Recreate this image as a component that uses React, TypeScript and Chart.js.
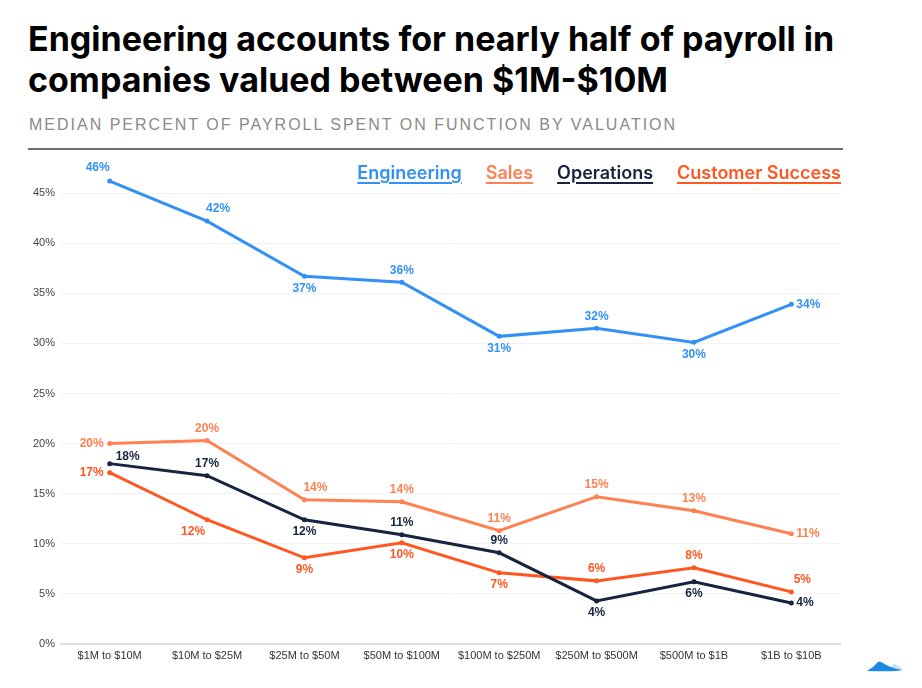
import React, { useEffect, useRef } from "react";
import { Chart, registerables } from "chart.js";

Chart.register(...registerables);

const categories = [
  "$1M to $10M",
  "$10M to $25M",
  "$25M to $50M",
  "$50M to $100M",
  "$100M to $250M",
  "$250M to $500M",
  "$500M to $1B",
  "$1B to $10B",
];

const engineering = [46.2, 42.2, 36.7, 36.1, 30.7, 31.5, 30.1, 33.9];
const sales = [20.0, 20.3, 14.4, 14.2, 11.3, 14.7, 13.3, 11.0];
const operations = [18.0, 16.8, 12.4, 10.9, 9.1, 4.3, 6.2, 4.1];
const customerSuccess = [17.1, 12.4, 8.6, 10.1, 7.1, 6.3, 7.6, 5.2];

const yTicks = [0, 5, 10, 15, 20, 25, 30, 35, 40, 45];

// label placement per point (style config, not data)
const engPlace = ["al", "ar", "b", "a", "b", "a", "b", "r"];
const salesPlace = ["l", "a", "ar", "a", "a", "a", "a", "r"];
const opsPlace = ["rt", "a", "b", "a", "a", "b", "b", "r"];
const csPlace = ["l", "bl", "b", "b", "b", "a", "a", "ar"];

const COLORS = {
  eng: "#3391f5",
  sales: "#ff8152",
  ops: "#16243f",
  cs: "#ff5722",
};

const PLACE: Record<string, { dx: number; dy: number; align: CanvasTextAlign }> = {
  a: { dx: 0, dy: -12, align: "center" },
  b: { dx: 0, dy: 12, align: "center" },
  l: { dx: -6, dy: 0, align: "right" },
  r: { dx: 5, dy: 0, align: "left" },
  al: { dx: -12, dy: -13, align: "center" },
  ar: { dx: 11, dy: -12, align: "center" },
  bl: { dx: -14, dy: 12, align: "center" },
  rt: { dx: 6, dy: -7, align: "left" },
};

const labelPlugin = {
  id: "pointLabels",
  afterDatasetsDraw(chart: any) {
    const ctx = chart.ctx as CanvasRenderingContext2D;
    ctx.save();
    ctx.font = "bold 12px 'Liberation Sans', Arial, sans-serif";
    ctx.textBaseline = "middle";
    chart.data.datasets.forEach((ds: any, i: number) => {
      const meta = chart.getDatasetMeta(i);
      const places: string[] = ds.labelPlaces || [];
      meta.data.forEach((pt: any, j: number) => {
        const p = PLACE[places[j] || "a"];
        ctx.fillStyle = ds.borderColor;
        ctx.textAlign = p.align;
        ctx.fillText(Math.round(ds.data[j]) + "%", pt.x + p.dx, pt.y + p.dy);
      });
    });
    ctx.restore();
  },
};

const legendItems = [
  { label: "Engineering", color: COLORS.eng },
  { label: "Sales", color: COLORS.sales },
  { label: "Operations", color: COLORS.ops },
  { label: "Customer Success", color: COLORS.cs },
];

function LineChart() {
  const ref = useRef<HTMLCanvasElement | null>(null);
  useEffect(() => {
    if (!ref.current) return;
    const mk = (label: string, data: number[], color: string, places: string[]) => ({
      label,
      data,
      borderColor: color,
      backgroundColor: color,
      pointBackgroundColor: color,
      pointBorderColor: color,
      borderWidth: 3,
      pointRadius: 2.5,
      pointBorderWidth: 0,
      tension: 0,
      clip: false as any,
      labelPlaces: places,
    });
    const chart = new Chart(ref.current, {
      type: "line",
      data: {
        labels: categories,
        datasets: [
          mk("Engineering", engineering, COLORS.eng, engPlace),
          mk("Sales", sales, COLORS.sales, salesPlace),
          mk("Operations", operations, COLORS.ops, opsPlace),
          mk("Customer Success", customerSuccess, COLORS.cs, csPlace),
        ] as any,
      },
      options: {
        animation: false,
        responsive: false,
        maintainAspectRatio: false,
        layout: { padding: { top: 13, right: 82, left: 0, bottom: 0 } },
        plugins: { legend: { display: false }, tooltip: { enabled: false } },
        scales: {
          x: {
            type: "category",
            offset: true,
            grid: { color: "transparent", drawTicks: false },
            border: { display: true, color: "#dedede", width: 2 },
            ticks: {
              color: "#333",
              font: { family: "'Liberation Sans', Arial, sans-serif", size: 11 },
              padding: 5,
              maxRotation: 0,
              autoSkip: false,
            },
            afterFit: (s: any) => {
              s.height = 44;
            },
          },
          y: {
            min: 0,
            max: 48,
            grid: { color: "#f2f2f2", drawTicks: false, lineWidth: 1 },
            border: { display: false },
            ticks: {
              color: "#444",
              font: { family: "'Liberation Sans', Arial, sans-serif", size: 11 },
              padding: 6,
              callback: (v: any) => v + "%",
            },
            afterBuildTicks: (s: any) => {
              s.ticks = yTicks.map((v) => ({ value: v }));
            },
            afterFit: (s: any) => {
              s.width = 61;
            },
          },
        },
      },
      plugins: [labelPlugin],
    });
    return () => chart.destroy();
  }, []);
  return (
    <canvas
      ref={ref}
      width={922}
      height={538}
      style={{ position: "absolute", left: 0, top: 150, width: 922, height: 538 }}
    />
  );
}

export default function App() {
  return (
    <div
      style={{
        position: "absolute",
        left: 0,
        top: 0,
        width: 922,
        height: 688,
        background: "#fff",
        fontFamily: "Inter, 'Noto Sans', sans-serif",
        overflow: "hidden",
      }}
    >
      <div
        style={{
          position: "absolute",
          left: 28,
          top: 18,
          fontSize: 34,
          lineHeight: "41px",
          fontWeight: 700,
          color: "#000",
          letterSpacing: 0,
          whiteSpace: "nowrap",
        }}
      >
        Engineering accounts for nearly half of payroll in
        <br />
        companies valued between $1M-$10M
      </div>
      <div
        style={{
          position: "absolute",
          left: 29,
          top: 115,
          fontSize: 16,
          lineHeight: "20px",
          color: "#8a8a8a",
          letterSpacing: 2,
          whiteSpace: "nowrap",
          fontFamily: "'Liberation Sans', Arial, sans-serif",
        }}
      >
        MEDIAN PERCENT OF PAYROLL SPENT ON FUNCTION BY VALUATION
      </div>
      <div
        style={{
          position: "absolute",
          left: 28,
          top: 148,
          width: 815,
          height: 2,
          background: "#6e6e6e",
        }}
      />
      <LineChart />
      <div
        style={{
          position: "absolute",
          right: 922 - 841,
          top: 161,
          display: "flex",
          gap: 24,
          zIndex: 2,
        }}
      >
        {legendItems.map((it) => (
          <span
            key={it.label}
            style={{
              color: it.color,
              fontSize: 18,
              fontWeight: 600,
              lineHeight: "24px",
              textDecoration: "underline",
              textDecorationThickness: 2,
              textUnderlineOffset: 3,
              whiteSpace: "nowrap",
            }}
          >
            {it.label}
          </span>
        ))}
      </div>
      <svg
        style={{ position: "absolute", left: 866, top: 659 }}
        width={38}
        height={14}
        viewBox="0 0 38 14"
      >
        <path d="M22 11 Q26 5 29 5 Q33 7 37 11 Z" fill="#bfe3f7" />
        <path d="M1 12 Q7 9 12 3 Q14 1.5 17 4 Q24 9 36 11 Q30 13 1 12 Z" fill="#1e88e5" />
      </svg>
    </div>
  );
}
